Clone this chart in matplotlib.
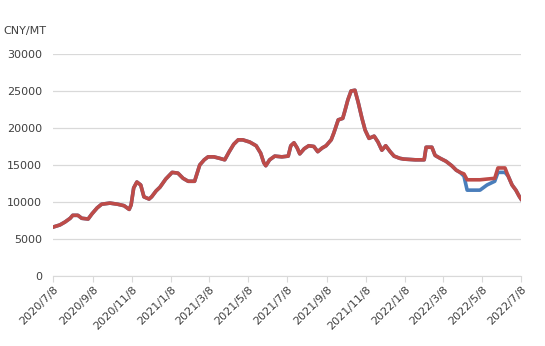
import matplotlib.pyplot as plt
import matplotlib.dates as mdates
import pandas as pd

# price series (CNY/MT)
dates = ['2020-07-08', '2020-07-19', '2020-07-27', '2020-08-04', '2020-08-08', '2020-08-16',
         '2020-08-22', '2020-09-01', '2020-09-07', '2020-09-15', '2020-09-22', '2020-10-05',
         '2020-10-17', '2020-10-27', '2020-11-04', '2020-11-07', '2020-11-11', '2020-11-16',
         '2020-11-22', '2020-11-27', '2020-12-05', '2020-12-09', '2020-12-16', '2020-12-22',
         '2020-12-31', '2021-01-10', '2021-01-19', '2021-01-27', '2021-02-04', '2021-02-14',
         '2021-02-22', '2021-03-01', '2021-03-07', '2021-03-16', '2021-03-25', '2021-04-02',
         '2021-04-09', '2021-04-16', '2021-04-23', '2021-04-30', '2021-05-11', '2021-05-21',
         '2021-05-28', '2021-06-02', '2021-06-05', '2021-06-11', '2021-06-19', '2021-06-30',
         '2021-07-10', '2021-07-14', '2021-07-19', '2021-07-24', '2021-07-28', '2021-08-04',
         '2021-08-11', '2021-08-19', '2021-08-25', '2021-09-01', '2021-09-07', '2021-09-15',
         '2021-09-19', '2021-09-26', '2021-10-03', '2021-10-06', '2021-10-11', '2021-10-16',
         '2021-10-22', '2021-10-27', '2021-11-02', '2021-11-07', '2021-11-13', '2021-11-21',
         '2021-11-27', '2021-12-03', '2021-12-09', '2021-12-16', '2021-12-22', '2021-12-31',
         '2022-01-06', '2022-01-24', '2022-02-07', '2022-02-10', '2022-02-19', '2022-02-24',
         '2022-03-04', '2022-03-13', '2022-03-22', '2022-03-29', '2022-04-04', '2022-04-10',
         '2022-04-15', '2022-04-19', '2022-05-05', '2022-05-16', '2022-05-28', '2022-06-02',
         '2022-06-13', '2022-06-18', '2022-06-24', '2022-06-30', '2022-07-05', '2022-07-08']

red_vals = [6600, 6900, 7300, 7800, 8200, 8200,
            7800, 7700, 8400, 9200, 9700, 9850,
            9700, 9500, 9000, 9600, 11900, 12700,
            12300, 10700, 10400, 10700, 11500, 12000,
            13100, 14000, 13900, 13200, 12800, 12800,
            15000, 15700, 16100, 16100, 15900, 15700,
            16800, 17800, 18400, 18400, 18100, 17600,
            16600, 15300, 14900, 15700, 16200, 16100,
            16200, 17600, 18000, 17300, 16500, 17200,
            17600, 17500, 16800, 17300, 17600, 18400,
            19300, 21100, 21300, 22200, 23800, 25000,
            25100, 23500, 21300, 19700, 18600, 18900,
            18100, 17000, 17600, 16800, 16200, 15900,
            15800, 15700, 15700, 17400, 17400, 16300,
            15900, 15500, 14900, 14300, 14000, 13800,
            13000, 13000, 13000, 13100, 13200, 14600,
            14600, 13500, 12300, 11600, 10800, 10400]

blue_vals = red_vals[:89] + [13500, 11600, 11600, 11600, 12300, 12800, 14000,
                             14000, 13500, 12300, 11600, 10800, 10400]

tick_dates = ['2020-07-08', '2020-09-08', '2020-11-08', '2021-01-08', '2021-03-08', '2021-05-08',
              '2021-07-08', '2021-09-08', '2021-11-08', '2022-01-08', '2022-03-08', '2022-05-08',
              '2022-07-08']
tick_labels = ['2020/7/8', '2020/9/8', '2020/11/8', '2021/1/8', '2021/3/8', '2021/5/8',
               '2021/7/8', '2021/9/8', '2021/11/8', '2022/1/8', '2022/3/8', '2022/5/8',
               '2022/7/8']

x = pd.to_datetime(dates)

fig = plt.figure(figsize=(5.45, 3.46), dpi=100)
ax = fig.add_axes([0.097, 0.2023, 0.859, 0.6417])

ax.plot(x, blue_vals, color='#4a7ebb', lw=2.6, solid_joinstyle='round')
ax.plot(x, red_vals, color='#be4b48', lw=2.6, solid_joinstyle='round')

ax.set_ylim(0, 30000)
ax.set_yticks(range(0, 30001, 5000))
ax.set_xlim(pd.Timestamp('2020-07-08'), pd.Timestamp('2022-07-08'))
ax.set_xticks(pd.to_datetime(tick_dates))
ax.set_xticklabels(tick_labels, rotation=45, ha='right', rotation_mode='anchor')

ax.grid(axis='y', color='#d9d9d9', lw=0.9)
ax.set_axisbelow(True)
for s in ['top', 'right', 'left']:
    ax.spines[s].set_visible(False)
ax.spines['bottom'].set_color('#d9d9d9')
ax.tick_params(axis='y', length=0, labelsize=8, colors='#404040', pad=8)
ax.tick_params(axis='x', length=4, color='#d9d9d9', labelsize=8, labelcolor='#404040', pad=2)

fig.text(0.006, 0.91, 'CNY/MT', fontsize=8, color='#404040', va='center')

fig.savefig('out.png', dpi=100)
